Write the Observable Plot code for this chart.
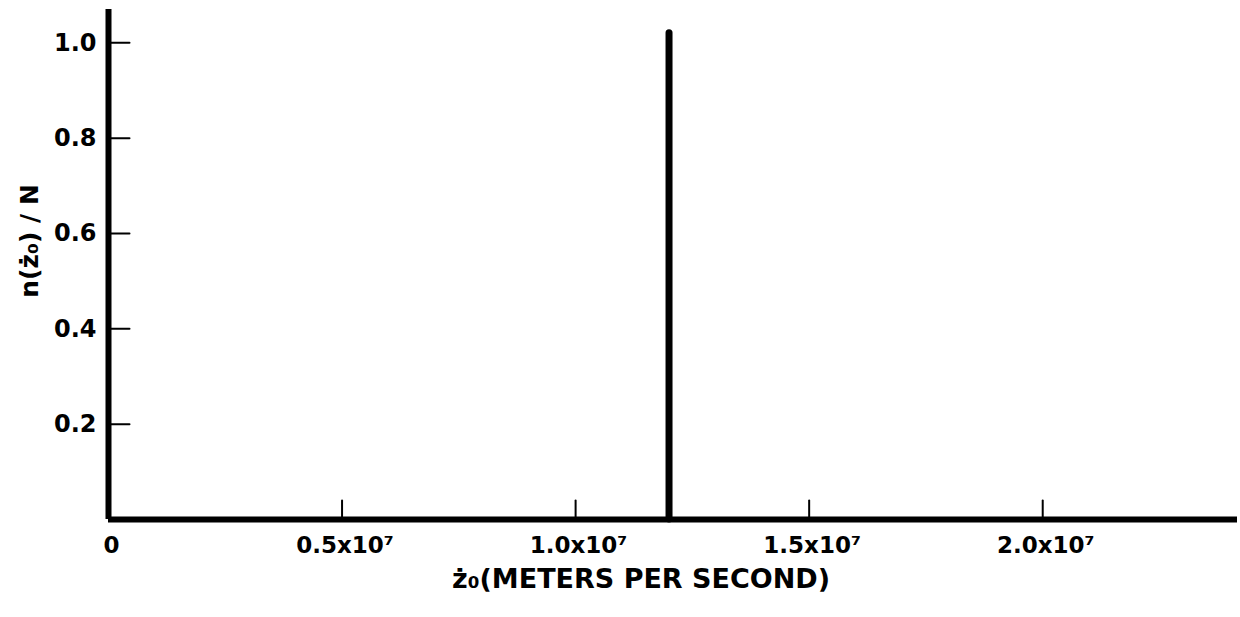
<!DOCTYPE html>
<html>
<head>
<meta charset="utf-8">
<script src="https://cdn.jsdelivr.net/npm/d3@7"></script>
<script src="https://cdn.jsdelivr.net/npm/@observablehq/plot@0.6"></script>
<style>
  html, body { margin: 0; padding: 0; background: #fff; }
  #chart svg { display: block; }
</style>
</head>
<body>
<div id="chart"></div>
<script>
// Data
const spikeX = [1.2e7];
const spikeY = [1.02];
const xTicks = [0, 0.5e7, 1.0e7, 1.5e7, 2.0e7];
const xTickLabels = ["0", "0.5x10⁷", "1.0x10⁷", "1.5x10⁷", "2.0x10⁷"];
const yTicks = [0.2, 0.4, 0.6, 0.8, 1.0];
const yTickLabels = ["0.2", "0.4", "0.6", "0.8", "1.0"];
const xMax = 2.417e7;
const yMax = 1.07;
const xTitle = "ż₀(METERS PER SECOND)";
const yTitle = "n(ż₀) / N";

const spikes = spikeX.map((x, i) => ({x, y: spikeY[i]}));
const xLabelOf = new Map(xTicks.map((t, i) => [t, xTickLabels[i]]));
const yLabelOf = new Map(yTicks.map((t, i) => [t, yTickLabels[i]]));
const font = "'DejaVu Sans', sans-serif";
const line = {draw(ctx, l) { ctx.moveTo(0, 0); ctx.lineTo(0, -l); }};

const chart = Plot.plot({
  width: 1240,
  height: 617,
  marginLeft: 108,
  marginRight: 3,
  marginTop: 9,
  marginBottom: 98,
  x: {domain: [0, xMax], axis: null},
  y: {domain: [0, yMax], axis: null},
  style: {fontFamily: font, color: "#000", background: "#fff"},
  marks: [
    // y ticks (pointing inward, to the right)
    Plot.vector(yTicks, {x: 0, y: d => d, length: 21, rotate: 90, anchor: "start", stroke: "#000", strokeWidth: 2, shape: line}),
    // x ticks (pointing up)
    Plot.vector(xTicks.slice(1), {x: d => d, y: 0, length: 19, rotate: 0, anchor: "start", stroke: "#000", strokeWidth: 2, shape: line}),
    // axis lines
    Plot.ruleX([0], {y1: 0, y2: yMax, stroke: "#000", strokeWidth: 6}),
    Plot.ruleY([0], {x1: 0, x2: xMax, stroke: "#000", strokeWidth: 6}),
    // spike
    Plot.ruleX(spikes, {x: "x", y1: 0, y2: "y", stroke: "#000", strokeWidth: 7, strokeLinecap: "round"}),
    // y tick labels
    Plot.text(yTicks, {x: 0, y: d => d, text: d => yLabelOf.get(d), textAnchor: "end", dx: -12, fontSize: 24, fontWeight: "bold", fill: "#000"}),
    // x tick labels
    Plot.text(xTicks, {x: d => d, y: 0, text: d => xLabelOf.get(d), textAnchor: "middle", lineAnchor: "top", dy: 17, dx: 3, fontSize: 23, fontWeight: "bold", fill: "#000"}),
    // x title
    Plot.text([xTitle], {frameAnchor: "bottom", text: d => d, textAnchor: "middle", lineAnchor: "bottom", dx: -32, dy: 68, fontSize: 27, fontWeight: "bold", fill: "#000"}),
  ]
});

// y title (rotated), placed in the left margin
const svg = d3.select(chart);
svg.append("text")
  .attr("transform", "translate(38,241) rotate(-90)")
  .attr("text-anchor", "middle")
  .attr("font-family", font)
  .attr("font-size", 25)
  .attr("font-weight", "bold")
  .attr("fill", "#000")
  .text(yTitle);

document.getElementById("chart").appendChild(chart);
</script>
</body>
</html>
